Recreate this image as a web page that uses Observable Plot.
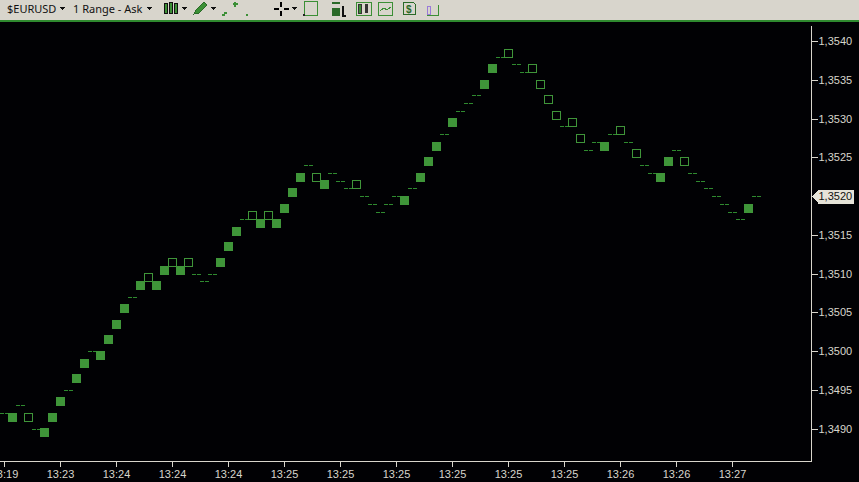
<!DOCTYPE html>
<html><head><meta charset="utf-8">
<script src="https://cdn.jsdelivr.net/npm/d3@7"></script>
<script src="https://cdn.jsdelivr.net/npm/@observablehq/plot@0.6"></script>
<style>
html,body{margin:0;padding:0;background:#010104;width:859px;height:482px;overflow:hidden}
#bar{position:relative;height:20px;background:#d8d5cc;border-bottom:2px solid #2f8a2f;font:11px "Noto Sans",sans-serif;color:#111;overflow:hidden}
#bar span{position:absolute;top:1px;white-space:nowrap}
#bar svg{position:absolute;left:0;top:0}
#chart svg{display:block}
</style></head><body>
<div id="bar"><span style="left:7px">$EURUSD</span><span style="left:73px">1 Range - Ask</span>
<svg width="460" height="20" shape-rendering="crispEdges">
<g fill="#111"><path d="M59 7h6l-3 3zM146 7h6l-3 3zM181 7h6l-3 3zM210 7h6l-3 3zM291 7h6l-3 3z"/></g>
<g fill="#3b8f35" stroke="#111"><rect x="164" y="3" width="3" height="10"/><rect x="169" y="2" width="3" height="11"/><rect x="174" y="3" width="3" height="10"/></g>
<path d="M194 14l2-4 8-8 3 3-8 8z" fill="#3b8f35" stroke="#2a6a28"/>
<path d="M222 15h3M224 13h3M235 2v5M233 4h5" stroke="#3b8f35" stroke-width="1.5" fill="none"/><rect x="246" y="14" width="2" height="2" fill="#3b8f35"/>
<path d="M274 9h5M284 9h5M281 2v5M281 11v5" stroke="#000" stroke-width="2" fill="none"/>
<rect x="304" y="1.5" width="13" height="14" fill="none" stroke="#3b8f35"/><rect x="303" y="14" width="2" height="2" fill="#222"/>
<path d="M332 2h8v2h-8zM332 8h8v8h-8z" fill="#2a6a28"/><path d="M343 6v10h3" fill="none" stroke="#111" stroke-width="2"/>
<rect x="356" y="2" width="15" height="13" fill="none" stroke="#3b8f35"/><rect x="358" y="4" width="3" height="9" fill="#3b8f35" stroke="#333"/><rect x="365" y="4" width="3" height="9" fill="#333"/>
<rect x="378.500" y="2" width="14" height="13" fill="none" stroke="#3b8f35"/><path d="M380 11l4-3 3 2 4-3" fill="none" stroke="#3b8f35"/>
<path d="M403.500 2.500h10l2 2v10h-12z" fill="#d8d5cc" stroke="#2a6a28"/><text x="406" y="13" font-size="10" font-weight="bold" fill="#2a6a28" font-family="Liberation Sans">$</text>
<rect x="427.500" y="6" width="3" height="8" fill="none" stroke="#9a7ad8"/><path d="M427 15.500h12M438.500 5v10" fill="none" stroke="#3b8f35"/>
</svg></div>
<div id="chart"></div>
<script>
const prices = [1.34920,1.34915,1.34930,1.34915,1.34900,1.34895,1.34915,1.34935,1.34950,1.34965,
1.34985,1.35000,1.34995,1.35015,1.35035,1.35055,1.35070,1.35085,1.35095,1.35085,
1.35105,1.35115,1.35105,1.35115,1.35100,1.35090,1.35100,1.35115,1.35135,1.35155,
1.35170,1.35175,1.35165,1.35175,1.35165,1.35185,1.35205,1.35225,1.35240,1.35225,
1.35215,1.35230,1.35220,1.35210,1.35215,1.35200,1.35190,1.35180,1.35190,1.35200,
1.35195,1.35210,1.35225,1.35245,1.35265,1.35280,1.35295,1.35310,1.35320,1.35330,
1.35345,1.35365,1.35380,1.35385,1.35370,1.35360,1.35365,1.35345,1.35325,1.35305,
1.35290,1.35295,1.35275,1.35260,1.35270,1.35265,1.35280,1.35285,1.35270,1.35255,
1.35240,1.35230,1.35225,1.35245,1.35260,1.35245,1.35230,1.35220,1.35210,1.35200,
1.35190,1.35180,1.35170,1.35185,1.35200];
const kinds = ("d f d h d f f f d f f d f f f f d f h f f h f h d d d f f f "+
"d h f h f f f f d h f d d d h d d d d d f d f f f d f d d d "+
"f f d h d d h h h h d h h d d f d h d h d d f f d h d d d d d d d f d").split(" ");
const tickIndex = [0,7,14,21,28,35,42,49,56,63,70,77,84,91];
const tickLabels = ["13:19","13:23","13:24","13:24","13:24","13:25","13:25","13:25","13:25","13:25","13:25","13:26","13:26","13:27"];
const priceTicks = [1.3490,1.3495,1.3500,1.3505,1.3510,1.3515,1.3520,1.3525,1.3530,1.3535,1.3540];
const lastPrice = [1.3520];

const bars = prices.map((price,i)=>({i,price,kind:kinds[i]}));
const fmt = v => d3.format(".4f")(v).replace(".",",");
const labelOf = i => tickLabels[tickIndex.indexOf(i)];
const green = "#3f9539", axisColor = "#d8d5cc";
const dash = {draw(c){c.moveTo(-4.5,0);c.lineTo(4.5,0);}};
const square = s => ({draw(c){c.rect(-s/2,-s/2,s,s);}});
const tag = {draw(c){c.moveTo(1,0);c.lineTo(7,-7);c.lineTo(42,-7);c.lineTo(42,7);c.lineTo(7,7);c.closePath();}};

const plot = Plot.plot({
  width:859,height:460,marginLeft:0,marginRight:48,marginTop:4,marginBottom:21,
  style:{background:"#010104",fontFamily:"'Liberation Sans',sans-serif",fontSize:"11px",shapeRendering:"crispEdges"},
  x:{type:"linear",domain:[-0.5,100.875],axis:null},
  y:{type:"linear",domain:[1.3540-420/77500,1.3540+15/77500],axis:null},
  marks:[
    Plot.axisX({anchor:"bottom",ticks:tickIndex,tickFormat:labelOf,tickSize:6,tickPadding:3,color:axisColor,label:null,fontSize:11}),
    Plot.axisY({anchor:"right",ticks:priceTicks,tickFormat:fmt,tickSize:6,tickPadding:1,color:axisColor,label:null,fontSize:11}),
    Plot.frame({anchor:"bottom",stroke:axisColor}),
    Plot.frame({anchor:"right",stroke:axisColor}),
    Plot.dot(bars.filter(d=>d.kind==="d"),{x:"i",y:"price",symbol:dash,stroke:"#2f8a2f",strokeWidth:1,strokeDasharray:"4 1",fill:"none"}),
    Plot.dot(bars.filter(d=>d.kind==="f"),{x:"i",y:"price",symbol:square(9),fill:green,stroke:"none"}),
    Plot.dot(bars.filter(d=>d.kind==="h"),{x:"i",y:"price",symbol:square(8),fill:"none",stroke:green,strokeWidth:1}),
    Plot.dot(lastPrice,{y:d=>d,frameAnchor:"right",symbol:tag,fill:"#e6e3d8",stroke:"none"}),
    Plot.text(lastPrice,{y:d=>d,frameAnchor:"right",dx:7,text:fmt,textAnchor:"start",fill:"#111",fontSize:11})
  ]
});
document.getElementById("chart").appendChild(plot);
</script></body></html>
